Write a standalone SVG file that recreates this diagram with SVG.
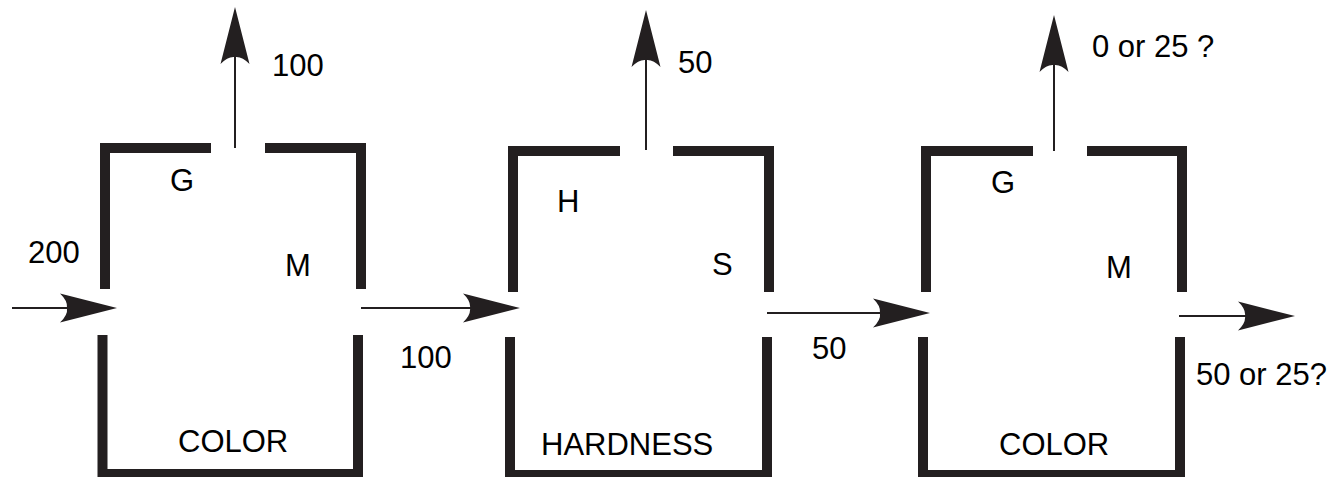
<svg xmlns="http://www.w3.org/2000/svg" width="1333" height="477" viewBox="0 0 1333 477">
<style>
.wall{fill:none;stroke:#231f20;stroke-width:10;stroke-linejoin:miter;stroke-linecap:butt}
.shaft{fill:none;stroke:#231f20;stroke-width:2}
.head{fill:#231f20}
text{font-family:"Liberation Sans",Arial,sans-serif;font-size:31px;fill:#000}
</style>
<defs>
<path id="ah" d="M0,0 L-57,-14.5 Q-49,-7 -50,0 Q-49,7 -57,14.5 Z"/>
</defs>
<rect width="1333" height="477" fill="#fff"/>
<g id="box1">
<polyline class="wall" points="105,289 105,148 211,148"/>
<polyline class="wall" points="265,148 361,148 361,289"/>
<polyline class="wall" points="102.5,335 102.5,474 358,474 358,335"/>
<text x="170" y="191">G</text>
<text x="285" y="276">M</text>
<text x="178" y="452">COLOR</text>
</g>
<g id="box2">
<polyline class="wall" points="513,292 513,151 620,151"/>
<polyline class="wall" points="673,151 769,151 769,292"/>
<polyline class="wall" points="510,337 510,475 767,475 767,337"/>
<text x="557" y="212">H</text>
<text x="712" y="275">S</text>
<text x="541" y="455">HARDNESS</text>
</g>
<g id="box3">
<polyline class="wall" points="926,292 926,151 1033,151"/>
<polyline class="wall" points="1087,151 1182,151 1182,292"/>
<polyline class="wall" points="923,337 923,475 1180,475 1180,337"/>
<text x="991" y="193">G</text>
<text x="1106" y="278">M</text>
<text x="999" y="455">COLOR</text>
</g>
<g id="connectors">
<line class="shaft" x1="12" y1="308" x2="68" y2="308"/>
<use href="#ah" class="head" transform="translate(117,308)"/>
<line class="shaft" x1="235" y1="148" x2="235" y2="56"/>
<use href="#ah" class="head" transform="translate(235,7) rotate(-90)"/>
<line class="shaft" x1="361" y1="308" x2="472" y2="308"/>
<use href="#ah" class="head" transform="translate(520,308)"/>
<line class="shaft" x1="646" y1="150" x2="646" y2="60"/>
<use href="#ah" class="head" transform="translate(646,10) rotate(-90)"/>
<line class="shaft" x1="767" y1="313" x2="882" y2="313"/>
<use href="#ah" class="head" transform="translate(930,313)"/>
<line class="shaft" x1="1054" y1="151" x2="1054" y2="65"/>
<use href="#ah" class="head" transform="translate(1054,15) rotate(-90)"/>
<line class="shaft" x1="1179" y1="316" x2="1247" y2="316"/>
<use href="#ah" class="head" transform="translate(1295,316)"/>
</g>
<g id="labels">
<text x="272" y="76">100</text>
<text x="28" y="263">200</text>
<text x="400" y="368">100</text>
<text x="678" y="73">50</text>
<text x="812" y="359">50</text>
<text x="1092" y="57">0 or 25 ?</text>
<text x="1196" y="385">50 or 25?</text>
</g>
</svg>
